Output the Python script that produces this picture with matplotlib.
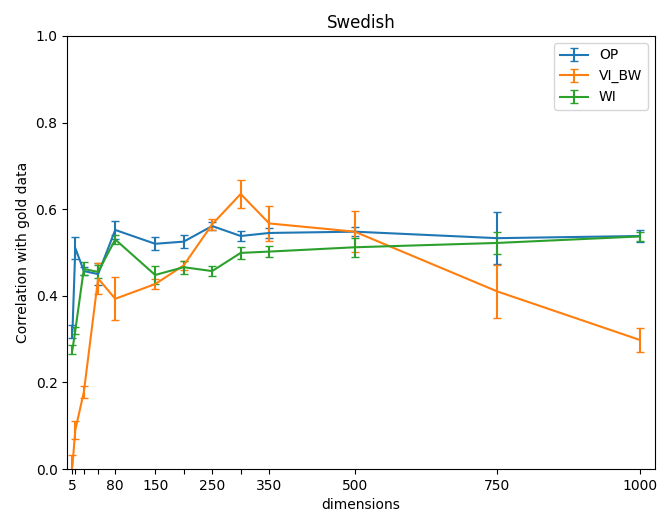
import matplotlib
matplotlib.use("Agg")
import matplotlib.pyplot as plt

# dimensions evaluated
dims = [5, 10, 25, 50, 80, 150, 200, 250, 300, 350, 500, 750, 1000]
shown_labels = [5, 80, 150, 250, 350, 500, 750, 1000]

# mean correlation and error per method
op_mean = [0.318, 0.51, 0.457, 0.45, 0.552, 0.52, 0.525, 0.561, 0.538, 0.545, 0.548, 0.533, 0.538]
op_err = [0.015, 0.025, 0.01, 0.025, 0.02, 0.015, 0.015, 0.01, 0.012, 0.012, 0.01, 0.06, 0.015]

vi_mean = [0.008, 0.09, 0.178, 0.44, 0.393, 0.427, 0.47, 0.565, 0.635, 0.567, 0.548, 0.41, 0.298]
vi_err = [0.025, 0.02, 0.013, 0.035, 0.05, 0.012, 0.01, 0.012, 0.033, 0.04, 0.047, 0.062, 0.027]

wi_mean = [0.276, 0.32, 0.462, 0.455, 0.53, 0.448, 0.466, 0.457, 0.499, 0.502, 0.512, 0.522, 0.537]
wi_err = [0.01, 0.008, 0.015, 0.015, 0.01, 0.02, 0.015, 0.012, 0.013, 0.013, 0.022, 0.025, 0.01]

fig, ax = plt.subplots(figsize=(6.6, 5.2), dpi=100)
fig.subplots_adjust(left=0.102, right=0.992, top=0.931, bottom=0.098)

ax.errorbar(dims, op_mean, yerr=op_err, capsize=3, label="OP")
ax.errorbar(dims, vi_mean, yerr=vi_err, capsize=3, label="VI_BW")
ax.errorbar(dims, wi_mean, yerr=wi_err, capsize=3, label="WI")

ax.set_ylim(0, 1.0)
ax.set_xlim(-4, 1026)
ax.set_xticks(dims)
ax.set_xticklabels([str(d) if d in shown_labels else "" for d in dims])

ax.set_title("Swedish")
ax.set_xlabel("dimensions")
ax.set_ylabel("Correlation with gold data")
ax.legend(loc="upper right")

fig.savefig("out.png")
